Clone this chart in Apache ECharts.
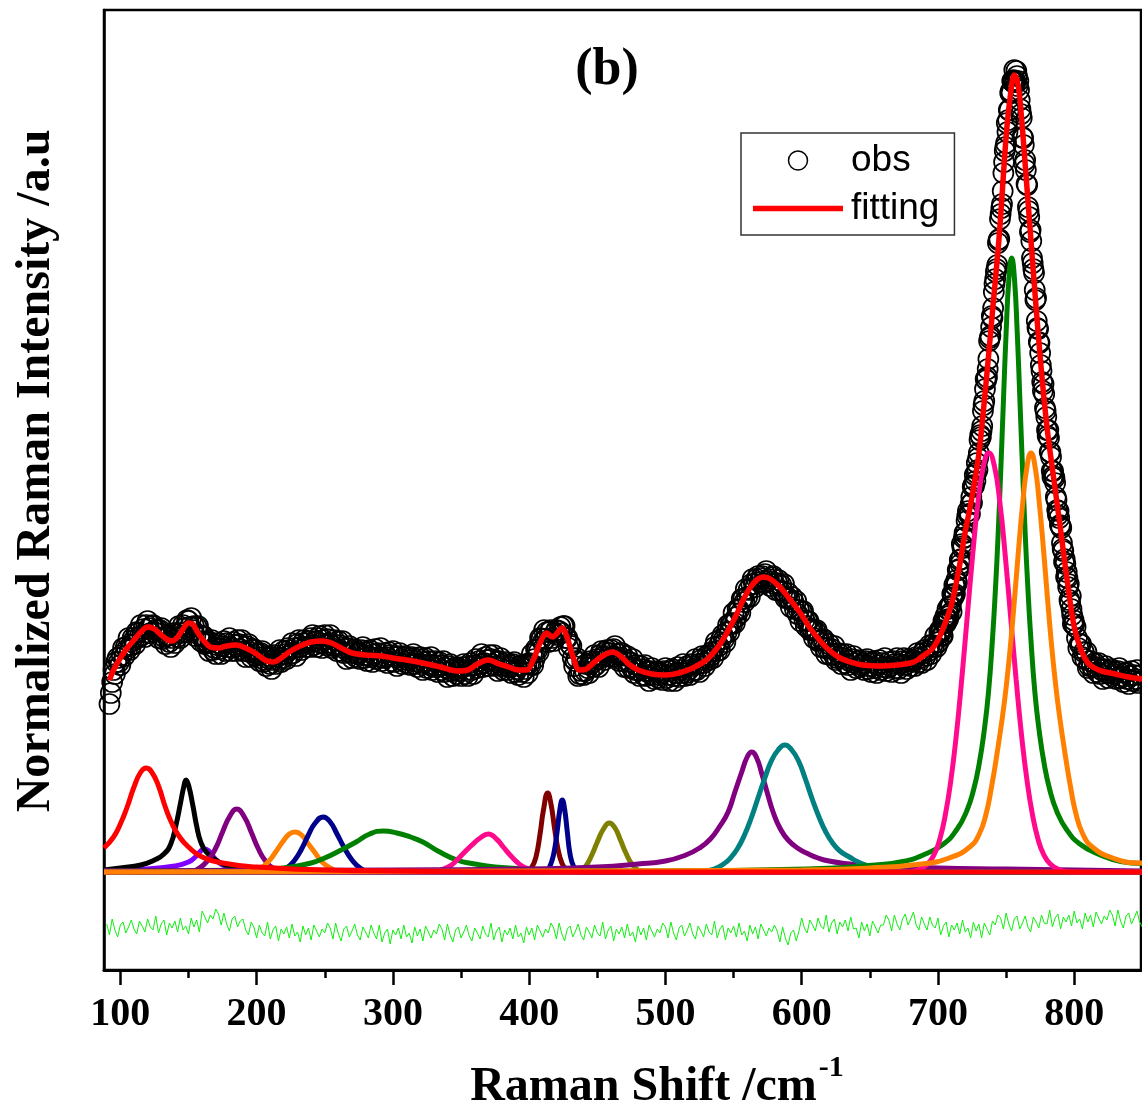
<!DOCTYPE html>
<html>
<head>
<meta charset="utf-8">
<script src="https://cdn.jsdelivr.net/npm/echarts@6/dist/echarts.min.js"></script>
<style>html,body{margin:0;padding:0;background:#fff}#chart{width:1142px;height:1115px}</style>
</head>
<body>
<div id="chart"></div>
<script>
// ---- axis ticks ----
const tickValues = [100, 200, 300, 400, 500, 600, 700, 800];
const minorTickValues = [150, 250, 350, 450, 550, 650, 750];

// ---- observed spectrum (Raman shift from 92 cm-1, 1 cm-1 steps) ----
const obsStart = 92, obsStep = 1;
const obsIntensity = [
168,179,190,
202,198,210,214,210,207,217,224,216,225,
223,234,222,227,234,232,228,240,239,235,
247,237,243,235,247,251,244,239,246,247,
240,242,243,234,242,244,233,235,228,236,
237,230,225,234,239,229,238,235,246,234,
239,247,244,240,252,251,245,254,242,246,
236,245,246,237,231,236,236,228,229,230,
221,230,232,222,224,218,227,229,223,218,
226,231,221,229,225,234,221,224,230,227,
221,232,228,223,232,221,225,215,226,228,
220,215,222,223,216,218,219,211,219,221,
210,212,206,214,216,208,203,212,217,208,
215,212,222,210,214,221,218,213,224,222,
218,229,219,224,216,228,232,225,222,229,
232,225,229,231,225,234,237,227,231,225,
234,236,229,224,232,237,227,233,229,237,
224,226,232,227,221,231,227,221,231,219,
223,213,224,226,219,214,221,223,215,218,
220,213,222,225,214,217,211,220,222,215,
210,218,223,213,219,215,224,211,214,219,
215,209,220,217,211,221,210,215,206,216,
219,212,208,215,216,209,212,214,207,215,
218,208,211,205,213,215,208,202,210,214,
204,211,207,215,202,205,211,206,200,210,
207,202,211,200,204,195,206,208,201,196,
203,205,198,201,203,196,205,208,198,202,
196,206,209,202,198,207,213,204,211,208,
218,205,209,215,212,206,217,213,208,217,
206,210,201,211,214,206,202,208,210,202,
205,207,199,208,210,200,203,197,206,207,
200,195,203,208,199,209,207,218,207,213,
223,222,220,234,233,230,242,233,240,230,
240,242,234,231,239,242,237,241,245,239,
246,246,234,234,224,228,226,214,206,211,
214,196,198,201,210,197,201,208,204,199,
211,209,205,217,207,213,205,217,221,215,
212,220,222,216,219,222,215,223,226,215,
218,211,219,219,211,205,212,216,204,210,
205,213,199,202,207,202,196,206,203,197,
207,196,200,191,201,204,197,193,200,201,
194,197,199,192,201,204,194,197,191,201,
203,196,191,199,205,195,202,199,208,196,
199,206,202,197,208,206,202,213,202,208,
200,212,216,209,206,214,217,212,216,220,
214,225,230,221,226,222,233,237,233,230,
240,247,240,249,248,259,249,255,263,262,
259,273,273,270,283,275,282,275,288,293,
288,285,293,296,290,294,296,289,298,301,
291,293,286,295,296,288,282,289,292,281,
287,281,288,274,275,279,273,265,275,270,
263,271,258,262,251,260,261,252,246,251,
251,242,243,243,234,241,242,231,232,225,
232,233,224,218,224,228,217,223,218,226,
212,214,219,215,208,218,214,209,218,207,
211,202,213,216,209,204,211,212,205,207,
209,202,211,213,203,206,200,209,211,204,
199,207,212,202,209,205,214,201,204,210,
206,200,211,208,204,214,203,208,199,211,
214,207,203,211,213,206,210,212,206,215,
219,210,214,209,219,222,216,212,221,227,
218,227,225,236,225,230,240,239,237,251,
250,249,263,256,265,260,277,287,286,289,
302,312,313,324,334,335,351,361,358,368,
369,387,397,399,402,419,437,441,461,471,
493,495,513,534,545,554,580,593,603,629,
633,658,668,699,721,729,740,762,779,779,
790,802,790,796,791,772,758,735,727,712,
688,665,655,642,614,603,582,574,544,530,
519,501,481,478,461,442,442,420,415,395,
396,389,372,357,354,346,329,321,313,295,
294,288,269,263,248,248,245,234,224,228,
228,215,220,213,220,204,206,211,206,199,
209,205,200,209,198,202,193,203,206,199,
194,201,203,196,198,200,193,201,204,194,
196,190,199,200,193,188,196,201,191,197,
193,202,189,191,197,186
];
// half-step readings across the main band (700.5 .. 799.5 cm-1)
const obsPeakStart = 700.5, obsPeakStep = 1;
const obsPeakIntensity = [
230,242,241,236,249,256,252,253,266,266,
278,275,278,292,302,303,308,328,326,339,
340,356,358,358,375,385,386,391,409,414,
432,435,446,467,483,492,503,531,536,556,
564,588,600,607,632,653,664,681,710,725,
749,752,762,781,791,792,791,801,786,782,
763,754,734,708,702,687,661,640,631,609,
599,572,551,543,529,507,490,488,464,455,
436,434,420,401,401,394,375,362,361,347,
344,323,310,308,300,285,272,276,257,252
];

// ---- fitted envelope [shift, intensity] ----
const fitCurve = [[92,192],[95,202],[100,214],[105,224],[110,232],[115,240],[120,245],[125,243],[130,237],[135,232],[138,231],[142,235],[146,243],[150,249],[153,248],[157,239],[162,230],[166,225],[172,224],[178,226],[185,227],[192,224],[200,218],[206,212],[212,210],[218,214],[225,221],[232,226],[240,230],[248,231],[255,229],[262,224],[270,219],[280,217],[292,216],[300,214],[310,212],[322,209],[335,205],[347,201],[355,202],[362,208],[370,212],[378,208],[385,205],[392,202],[398,202],[403,212],[408,229],[413,239],[417,235],[420,238],[424,244],[428,234],[432,216],[437,202],[442,203],[448,210],[455,217],[461,220],[467,216],[473,208],[480,202],[490,198],[500,197],[510,199],[520,204],[530,212],[538,224],[545,239],[552,257],[557,272],[562,284],[567,292],[572,295],[577,293],[584,285],[590,275],[599,259],[606,244],[613,232],[620,222],[628,214],[636,210],[645,207],[657,206],[670,207],[680,209],[685,212],[690,217],[695,222],[700,232],[705,248],[710,268],[715,300],[720,340],[725,375],[730,418],[735,485],[740,560],[745,637],[750,735],[753,775],[756,797],[758,792],[760,775],[765,690],[770,600],[775,515],[780,445],[785,393],[790,342],[795,290],[800,245],[805,222],[810,209],[815,204],[820,201],[830,198],[840,195],[850,193]];

// ---- fitted component bands [shift, intensity] ----
const band119 = [[88,24],[95,35],[100,48],[105,65],[110,85],[115,100],[119,104],[123,100],[128,86],[133,65],[138,48],[143,36],[150,25],[160,15],[175,9],[200,5],[250,2],[300,1],[400,0],[850,0]];
const band148 = [[88,2],[100,4],[115,7],[125,12],[132,18],[137,28],[141,48],[144,68],[146.5,85],[148.2,92],[150,87],[153,68],[156,46],[159,30],[163,20],[170,12],[180,6],[200,3],[250,1],[300,0],[850,0]];
const band162 = [[88,1],[120,3],[140,6],[150,10],[155,15],[159,21],[162,23],[165,21],[169,14],[175,7],[185,3],[200,1],[250,0],[850,0]];
const band185 = [[88,0],[150,0],[158,4],[165,13],[170,24],[175,40],[180,55],[185.4,63],[191,55],[196,40],[201,24],[206,12],[212,4],[220,1],[230,0],[850,0]];
const band228 = [[88,0],[195,0],[203,4],[209,11],[214,20],[219,30],[224,38],[228.2,40],[233,37],[238,28],[243,19],[248,10],[254,4],[262,0],[850,0]];
const band249 = [[88,0],[215,0],[222,4],[228,12],[233,23],[238,37],[243,49],[248.9,55],[254,50],[259,38],[264,25],[270,12],[276,4],[283,0],[850,0]];
const band293 = [[88,1],[200,2],[225,5],[240,9],[250,14],[262,22],[273,30],[283,38],[293,41],[303,39],[313,35],[322,30],[333,21],[347,12],[360,8],[375,5],[400,3],[450,1],[500,0],[850,0]];
const band370 = [[88,0],[330,0],[335,2],[342,6],[347,12],[352,19],[358,27],[364,34],[370,38],[376,33],[381,25],[386,17],[391,10],[396,5],[402,2],[410,0],[850,0]];
const band414 = [[88,0],[398,0],[402,5],[405,15],[408,38],[410.5,62],[413.6,79],[416,68],[418.5,45],[421,24],[424,9],[427,3],[432,0],[850,0]];
const band424 = [[88,0],[412,0],[415,5],[418,18],[420.5,40],[422.5,62],[424.3,72],[426,63],[428,40],[430,18],[432.5,6],[436,0],[850,0]];
const band459 = [[88,0],[436,0],[441,5],[446,17],[450,30],[454.5,43],[458.8,49],[463,44],[467,32],[471,19],[476,7],[482,1],[488,0],[850,0]];
const band563 = [[88,1],[300,2],[400,3],[450,5],[480,8],[500,11],[515,17],[525,24],[533,33],[540,46],[546,60],[551,80],[556,100],[560,115],[563.3,120],[567,114],[571,97],[575,78],[579,60],[584,44],[590,32],[598,23],[605,18],[612,14],[620,11],[635,8],[650,6],[700,4],[750,3],[800,2],[850,1]];
const band588 = [[88,0],[515,0],[527.7,1],[535.7,3],[542.7,8],[547.7,14],[552.7,23],[557.7,36],[562.7,53],[567.7,73],[572.7,93],[577.7,111],[582.7,122],[587.7,127],[592.7,122],[597.7,111],[602.7,93],[607.7,73],[612.7,55],[617.7,40],[622.7,29],[628,21],[635,15],[643,9],[652,5],[665,2],[680,0],[850,0]];
const band737 = [[88,0],[677.4,0],[685.4,2],[692.4,8],[697.4,18],[701.4,33],[705.4,57],[709.4,91],[713.4,136],[717.4,192],[721.4,254],[725.4,316],[729.4,370],[733.4,406],[737.4,419],[741.4,406],[745.4,370],[749.4,316],[753.4,254],[757.4,192],[761.4,136],[765.4,91],[769.4,57],[773.4,33],[777.4,18],[782.4,8],[789.4,2],[797.4,0],[850,0]];
const band754 = [[88,0],[354.1,0.5],[504.1,1.2],[604.1,3],[654.1,7],[674.1,10.5],[689.1,17],[704.1,28],[714.1,43],[721.1,61],[726.1,82],[730.1,107],[734.1,143],[737.1,180],[740.1,235],[742.1,281],[744.1,336],[746.1,402],[748.1,473],[750.1,542],[752.1,594],[754.1,614],[756.1,594],[758.1,542],[760.1,473],[762.1,402],[764.1,336],[766.1,281],[768.1,235],[771.1,180],[774.1,143],[778.1,107],[782.1,82],[787.1,61],[794.1,43],[804.1,28],[819.1,17],[834.1,10.5],[850,8.5]];
const band768 = [[88,0],[400,1],[600,2],[650,4],[688.3,8],[708.3,14],[723.3,25],[730.3,38],[735.3,58],[739.3,85],[743.3,118],[747.3,155],[750.3,188],[753.3,228],[756.3,275],[759.3,325],[762.3,370],[765.3,405],[768.3,419],[771.3,405],[774.3,370],[777.3,325],[780.3,275],[783.3,228],[786.3,188],[789.3,155],[793.3,118],[797.3,85],[801.3,58],[806.3,38],[813.3,25],[828.3,14],[848.3,9],[850,9]];

// ---- residual (obs - fit, shown offset), from 90 cm-1 in 2 cm-1 steps ----
const residualStart = 90, residualStep = 2;
const residual = [
-52,-63,-47,-58,-65,-53,-50,-61,-55,-48,
-57,-62,-49,-54,-60,-47,-55,-58,-44,-61,
-52,-48,-63,-51,-56,-49,-60,-46,-58,-54,
-62,-46,-55,-48,-60,-39,-45,-51,-43,-47,
-37,-42,-53,-41,-52,-59,-47,-44,-55,-49,
-47,-58,-63,-50,-55,-66,-53,-61,-64,-50,
-67,-58,-54,-69,-57,-62,-55,-66,-52,-64,
-60,-70,-54,-63,-56,-68,-53,-59,-65,-57,
-61,-51,-56,-67,-51,-62,-69,-57,-54,-65,
-59,-52,-63,-68,-55,-60,-66,-53,-61,-67,
-53,-70,-61,-57,-72,-58,-63,-56,-67,-53,
-65,-61,-71,-55,-64,-57,-69,-54,-60,-66,
-58,-62,-52,-57,-68,-52,-63,-70,-58,-55,
-66,-60,-53,-64,-69,-56,-61,-67,-54,-62,
-65,-51,-68,-59,-55,-70,-58,-63,-56,-67,
-53,-65,-61,-71,-55,-63,-56,-68,-53,-59,
-65,-57,-61,-51,-56,-67,-51,-62,-69,-57,
-54,-65,-59,-52,-63,-68,-55,-60,-66,-53,
-61,-64,-50,-67,-58,-54,-69,-57,-62,-55,
-66,-52,-64,-60,-70,-54,-63,-56,-68,-53,
-59,-65,-57,-61,-51,-55,-66,-50,-61,-68,
-56,-53,-64,-58,-51,-62,-67,-54,-59,-65,
-52,-60,-63,-49,-66,-57,-53,-68,-56,-61,
-54,-65,-51,-63,-59,-69,-53,-62,-55,-67,
-52,-58,-64,-56,-60,-53,-59,-70,-55,-66,
-73,-61,-58,-69,-59,-46,-56,-61,-48,-53,
-59,-46,-54,-57,-43,-60,-51,-47,-62,-50,
-55,-48,-59,-45,-57,-56,-66,-50,-59,-52,
-64,-49,-55,-61,-53,-53,-43,-48,-59,-43,
-52,-58,-47,-42,-53,-47,-40,-53,-58,-45,
-52,-58,-45,-53,-56,-46,-63,-54,-50,-65,
-53,-58,-51,-62,-48,-60,-56,-66,-50,-59,
-52,-66,-51,-57,-63,-49,-53,-43,-46,-57,
-41,-52,-59,-47,-44,-57,-51,-44,-55,-60,
-45,-50,-56,-43,-51,-52,-38,-55,-46,-42,
-57,-45,-50,-43,-54,-39,-51,-47,-57,-41,
-50,-43,-55,-40,-46,-52,-44,-48,-38,-43,
-54,-38,-49,-56,-44,-41,-52,-46,-39,-50,
-55
];

// ---- component colours (drawing order; the 119 cm-1 band last) ----
const bandList = [
  [band162, '#8000FF'], [band148, '#000000'], [band185, '#800080'], [band228, '#FF8000'],
  [band249, '#00008B'], [band293, '#008000'], [band370, '#FF0A8C'], [band414, '#800000'],
  [band424, '#00008B'], [band459, '#808000'], [band563, '#800080'], [band588, '#008080'],
  [band754, '#008000'], [band737, '#FF0A8C'], [band768, '#FF8000'], [band119, '#FF0000']
];

const serif = "'Liberation Serif','Times New Roman',serif";
const sans = "'Liberation Sans',Arial,sans-serif";

const obsData = obsIntensity.map((v, i) => [obsStart + i * obsStep, v]);
const obsPeakData = obsPeakIntensity.map((v, i) => [obsPeakStart + i * obsPeakStep, v]);
const residualData = residual.map((v, i) => [residualStart + i * residualStep, v]);

const obsStyle = { color: 'rgba(255,255,255,0)', borderColor: '#000000', borderWidth: 1.7, opacity: 1 };
const series = [
  { name: 'obs', type: 'scatter', data: obsData, symbol: 'circle', symbolSize: 20, itemStyle: obsStyle, z: 2, silent: true, large: false },
  { name: 'obs', type: 'scatter', data: obsPeakData, symbol: 'circle', symbolSize: 20, itemStyle: obsStyle, z: 2, silent: true, large: false },
  {
    name: 'fitting', type: 'line', data: fitCurve, symbol: 'none', smooth: 0.35,
    lineStyle: { color: '#FF0000', width: 5.5 }, itemStyle: { color: '#FF0000' }, z: 3, silent: true
  },
  {
    name: 'residual', type: 'line', data: residualData, symbol: 'none',
    lineStyle: { color: '#11EE11', width: 1 }, z: 3, silent: true
  }
];
bandList.forEach(([d, c], k) => {
  series.push({
    name: 'band' + k, type: 'line', data: d, symbol: 'none', smooth: 0.5,
    lineStyle: { color: c, width: 5 }, z: 4, silent: true
  });
});

const chart = echarts.init(document.getElementById('chart'), null, { renderer: 'canvas' });
chart.setOption({
  animation: false,
  backgroundColor: '#ffffff',
  grid: {
    left: 104, right: 1, top: 10, bottom: 145, show: true,
    borderColor: '#000', borderWidth: 2.5, backgroundColor: 'transparent',
    containLabel: false, outerBoundsMode: 'none'
  },
  xAxis: [
    {
      type: 'value', min: 88, max: 849, position: 'bottom',
      axisLine: { show: true, onZero: false, lineStyle: { color: '#000', width: 3 } },
      axisTick: { show: true, customValues: tickValues, length: 15, lineStyle: { color: '#000', width: 2.5 } },
      axisLabel: {
        show: true, customValues: tickValues, margin: 25, color: '#000',
        fontFamily: serif, fontWeight: 'bold', fontSize: 40
      },
      splitLine: { show: false }
    },
    {
      type: 'value', min: 88, max: 849, position: 'top', offset: -960,
      axisLine: { show: false, onZero: false },
      axisTick: { show: true, inside: true, customValues: minorTickValues, length: 8, lineStyle: { color: '#000', width: 2.5 } },
      axisLabel: { show: false },
      splitLine: { show: false }
    }
  ],
  yAxis: {
    type: 'value', min: -98, max: 862,
    axisLine: { show: true, onZero: false, lineStyle: { color: '#000', width: 2.5 } },
    axisTick: { show: false }, axisLabel: { show: false }, splitLine: { show: false }
  },
  legend: {
    data: [
      { name: 'obs', icon: 'circle', itemStyle: { color: '#fff', borderColor: '#000', borderWidth: 1.5 } },
      { name: 'fitting', icon: 'path://M0,0L90,0L90,5.5L0,5.5Z', itemStyle: { color: '#FF0000', borderWidth: 0 } }
    ],
    orient: 'vertical', left: 741, top: 133,
    padding: [9, 15, 8, 12], itemWidth: 90, itemHeight: 19, itemGap: 11,
    backgroundColor: '#fff', borderColor: '#333', borderWidth: 1.5,
    textStyle: { fontFamily: sans, fontSize: 37, color: '#000', lineHeight: 36, padding: [0, 0, 0, 3] },
    selectedMode: false
  },
  graphic: [
    {
      type: 'text', x: 607, y: 71, z: 10,
      style: { text: '(b)', font: "bold 52px 'Liberation Serif', serif", fill: '#000', align: 'center', verticalAlign: 'middle' }
    },
    {
      type: 'text', x: 37, y: 471, rotation: Math.PI / 2, z: 10,
      style: { text: 'Normalized Raman Intensity /a.u', font: "bold 48px 'Liberation Serif', serif", fill: '#000', align: 'center', verticalAlign: 'middle' }
    },
    {
      type: 'text', x: 657, y: 1088, z: 10,
      style: {
        text: '{a|Raman Shift /cm}{b|-1}', align: 'center', verticalAlign: 'middle', fill: '#000',
        rich: {
          a: { fontFamily: serif, fontWeight: 'bold', fontSize: 48, lineHeight: 70, fill: '#000' },
          b: { fontFamily: serif, fontWeight: 'bold', fontSize: 30, lineHeight: 70, verticalAlign: 'top', fill: '#000', padding: [0, 0, 0, 2] }
        }
      }
    }
  ],
  series: series
});
</script>
</body>
</html>
